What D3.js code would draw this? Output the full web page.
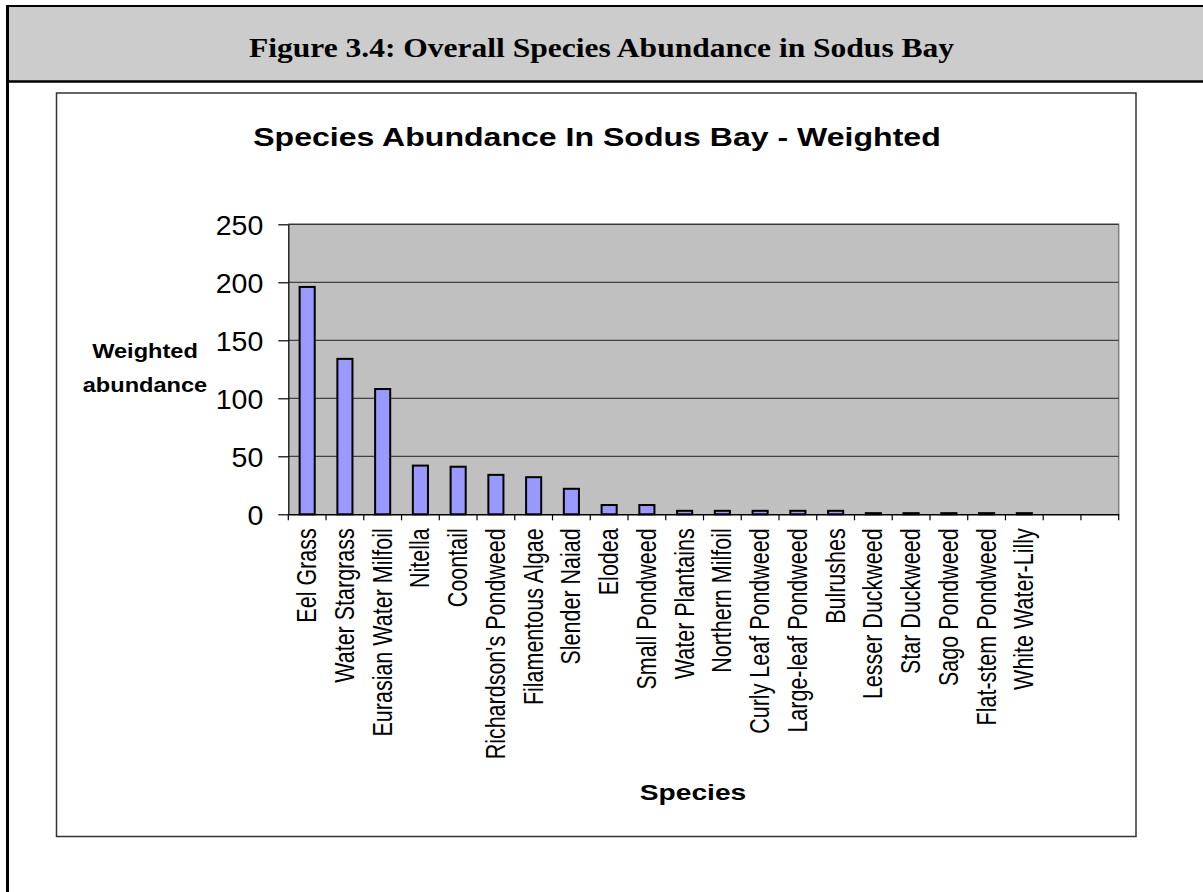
<!DOCTYPE html>
<html><head><meta charset="utf-8">
<script src="https://cdn.jsdelivr.net/npm/d3@7"></script>
<style>html,body{margin:0;padding:0;background:#fff;overflow:hidden}</style>
</head><body><svg id="c" width="1203" height="892"></svg>
<script>
const categories = ["Eel Grass","Water Stargrass","Eurasian Water Milfoil","Nitella","Coontail",
  "Richardson's Pondweed","Filamentous Algae","Slender Naiad","Elodea","Small Pondweed",
  "Water Plantains","Northern Milfoil","Curly Leaf Pondweed","Large-leaf Pondweed","Bulrushes",
  "Lesser Duckweed","Star Duckweed","Sago Pondweed","Flat-stem Pondweed","White Water-Lilly"];
const values = [196,134,108,42,41,34,32,22,8,8,3,3,3,3,3,1,1,1,1,1];
const blankSlots = 2;
const yTicks = [0,50,100,150,200,250];
const pageTitle = "Figure 3.4: Overall Species Abundance in Sodus Bay";
const chartTitle = "Species Abundance In Sodus Bay - Weighted";
const yTitleLines = ["Weighted","abundance"];
const xTitle = "Species";

const SANS = "'Liberation Sans', Arial, sans-serif";
const SERIF = "'Liberation Serif', 'Times New Roman', serif";
const svg = d3.select("#c");

// page frame + header band
svg.append("rect").attr("x",8).attr("y",6).attr("width",1195).attr("height",75).attr("fill","#cccccc");
svg.append("line").attr("x1",6).attr("x2",1203).attr("y1",6).attr("y2",6).attr("stroke","#000").attr("stroke-width",2);
svg.append("line").attr("x1",6).attr("x2",1203).attr("y1",81.5).attr("y2",81.5).attr("stroke","#000").attr("stroke-width",2.5);
svg.append("line").attr("x1",7.5).attr("x2",7.5).attr("y1",5).attr("y2",892).attr("stroke","#000").attr("stroke-width",3);
svg.append("text").attr("transform",`translate(601.5,57) scale(1.19,1)`)
  .attr("text-anchor","middle").attr("font-family",SERIF).attr("font-weight","bold")
  .attr("font-size",26.5).attr("fill","#000").text(pageTitle);

// chart box
svg.append("rect").attr("x",56.5).attr("y",93).attr("width",1079.5).attr("height",743.5)
  .attr("fill","#fff").attr("stroke","#333").attr("stroke-width",1.5);

svg.append("text").attr("transform",`translate(597,146) scale(1.21,1)`)
  .attr("text-anchor","middle").attr("font-family",SANS).attr("font-weight","bold")
  .attr("font-size",26.5).attr("fill","#000").text(chartTitle);

// plot area
const px0 = 288.3, px1 = 1118.7, pyTop = 224.3, pyBot = 514.3;
const slots = d3.range(categories.length + blankSlots);
const x = d3.scaleBand().domain(slots).range([px0, px1]).paddingInner(0.6).paddingOuter(0.3);
const y = d3.scaleLinear().domain([0, 250]).range([pyBot, pyTop]);

svg.append("rect").attr("x",px0).attr("y",pyTop).attr("width",px1-px0).attr("height",pyBot-pyTop).attr("fill","#c0c0c0");
svg.append("path").attr("d",`M${px0},${pyTop}H${px1}V${pyBot}`).attr("fill","none").attr("stroke","#808080").attr("stroke-width",1.5);

// gridlines
svg.append("g").selectAll("line").data(yTicks.filter(t => t > 0)).join("line")
  .attr("x1",px0).attr("x2",px1).attr("y1",d=>y(d)).attr("y2",d=>y(d))
  .attr("stroke","#222").attr("stroke-width",1);

// bars
svg.append("g").selectAll("rect").data(values).join("rect")
  .attr("x",(d,i)=>x(i)).attr("width",x.bandwidth())
  .attr("y",d=>y(d)).attr("height",d=>y(0)-y(d))
  .attr("fill","#9999ff").attr("stroke","#000").attr("stroke-width",2);

// y axis
const yAxis = svg.append("g").attr("transform",`translate(${px0},0)`)
  .call(d3.axisLeft(y).tickValues(yTicks).tickSize(10).tickSizeOuter(0));
yAxis.select(".domain").attr("stroke","#000").attr("stroke-width",1.2);
yAxis.selectAll(".tick line").attr("stroke","#000").attr("stroke-width",1.2);
yAxis.selectAll(".tick text").attr("x",null).attr("dy","0.36em")
  .attr("transform",`translate(-25,0)`)
  .attr("text-anchor","end").attr("font-family",SANS).attr("font-size",28.5).attr("fill","#000");

// x axis (labels)
const xAxis = svg.append("g").attr("transform",`translate(0,${pyBot})`)
  .call(d3.axisBottom(x).tickSize(0).tickSizeOuter(0).tickFormat(i => categories[i] || ""));
xAxis.select(".domain").attr("stroke","#000").attr("stroke-width",1.5);
xAxis.selectAll(".tick text").attr("y",null).attr("dy","0.36em")
  .attr("transform",`translate(-1,14) scale(1.3,1) rotate(-90)`)
  .attr("text-anchor","end").attr("font-family",SANS).attr("font-size",21.5).attr("fill","#000");
// category boundary tick marks
const step = x.step();
svg.append("g").selectAll("line").data(d3.range(slots.length + 1)).join("line")
  .attr("x1",i=>px0 + i*step).attr("x2",i=>px0 + i*step)
  .attr("y1",pyBot).attr("y2",pyBot+6).attr("stroke","#000").attr("stroke-width",1.2);

// axis titles
const yt = svg.append("text").attr("transform",`translate(145,0) scale(1.18,1)`)
  .attr("text-anchor","middle").attr("font-family",SANS).attr("font-weight","bold")
  .attr("font-size",20).attr("fill","#000");
yTitleLines.forEach((t,k)=> yt.append("tspan").attr("x",0).attr("y",358 + k*34).text(t));

svg.append("text").attr("transform",`translate(693,800) scale(1.28,1)`)
  .attr("text-anchor","middle").attr("font-family",SANS).attr("font-weight","bold")
  .attr("font-size",22).attr("fill","#000").text(xTitle);
</script></body></html>
